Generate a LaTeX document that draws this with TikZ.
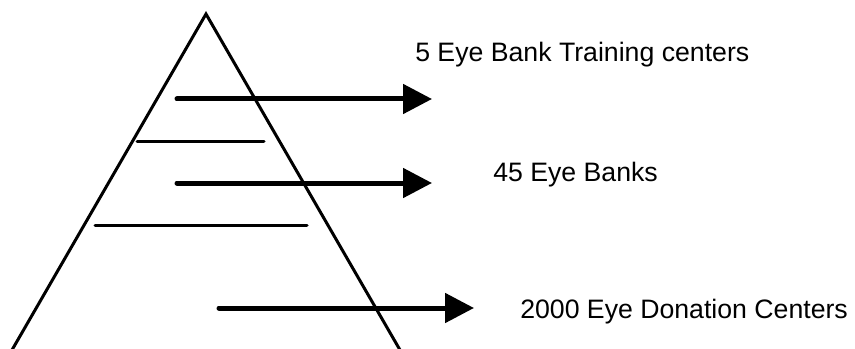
\documentclass[tikz,border=0pt]{standalone}
\usepackage{fontspec}
\setmainfont{Liberation Sans}
\usetikzlibrary{arrows.meta,positioning,calc}

\begin{document}
\begin{tikzpicture}[x=0.75pt,y=-0.75pt,>={Triangle[length=21.75pt,width=21.75pt]}]
\useasboundingbox (0,0) rectangle (855,349);
\clip (0,0) rectangle (855,349);
% pyramid
\coordinate (apex) at (206,14);
\coordinate (bl) at (12,350);
\coordinate (br) at (400,350);
\draw[line width=2.25pt,line join=miter] (bl) -- (apex) -- (br);
\draw[line width=1pt,gray!40] (bl) -- (br);
% level lines
\draw[line width=2.25pt,line cap=round] (137,141) -- (264,141);
\draw[line width=2.25pt,line cap=round] (95,225) -- (307,225);
% labels
\node[anchor=base west,inner sep=0,font=\fontsize{20}{24}\selectfont] (top) at (415,62) {5 Eye Bank Training centers};
\node[anchor=base west,inner sep=0,font=\fontsize{20}{24}\selectfont] (mid) at (493,181) {45 Eye Banks};
\node[anchor=base west,inner sep=0,font=\fontsize{20}{24}\selectfont] (bot) at (520,318) {2000 Eye Donation Centers};
% arrows
\coordinate (a1) at (177,99);
\coordinate (b1) at (432,99);
\coordinate (a2) at (177,183);
\coordinate (b2) at (432,183);
\coordinate (a3) at (219,308);
\coordinate (b3) at (474,308);
\draw[->,line width=3.75pt,line cap=round] (a1) -- (b1);
\draw[->,line width=3.75pt,line cap=round] (a2) -- (b2);
\draw[->,line width=3.75pt,line cap=round] (a3) -- (b3);
\end{tikzpicture}
\end{document}
